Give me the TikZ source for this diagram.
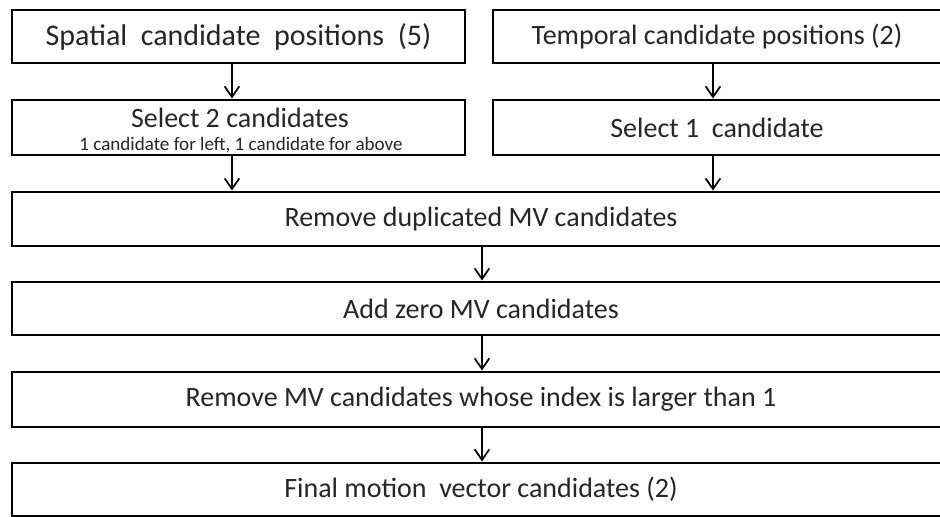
\documentclass[tikz,border=0pt]{standalone}
\usepackage{fontspec}
\setmainfont{Carlito}
\usetikzlibrary{arrows.meta}

\tikzset{
  stepbox/.style={draw=black, line width=2.2pt, rectangle, inner sep=0pt,
    fill=white, text=black!85, font=\fontsize{21}{24}\selectfont, align=center},
  flow/.style={draw=black, line width=1.3pt,
    -{Straight Barb[length=8pt,width=11pt,line width=1.3pt]}},
}

\begin{document}
\begin{tikzpicture}[x=0.75pt,y=-0.75pt]
  \useasboundingbox (0,0) rectangle (940,517);

  % upper row: spatial and temporal branches
  \node[stepbox, minimum width=339.75pt, minimum height=39.75pt,
        font=\fontsize{22.5}{26}\selectfont] (sp) at (238.5,36.5)
    {Spatial~~candidate~~positions~~(5)};
  \node[stepbox, minimum width=336pt, minimum height=39.75pt] (tp) at (717,36.5)
    {Temporal candidate positions (2)};

  \node[stepbox, minimum width=339.75pt, minimum height=41.25pt] (s2) at (238.5,127.5) {};
  \node[font=\fontsize{21}{24}\selectfont, text=black!85] (s2a) at (240,118) {Select 2~candidates};
  \node[font=\fontsize{14.3}{16}\selectfont, text=black!85] (s2b) at (241,145.5) {1 candidate for left, 1 candidate for above};

  \node[stepbox, minimum width=336pt, minimum height=41.25pt] (s1) at (717,127.5)
    {Select 1~~candidate};

  % full-width steps
  \node[stepbox, minimum width=703.5pt, minimum height=40.5pt] (rd) at (481,219)
    {Remove duplicated MV~candidates};
  \node[stepbox, minimum width=703.5pt, minimum height=39.75pt] (az) at (481,308.5)
    {Add zero MV candidates};
  \node[stepbox, minimum width=703.5pt, minimum height=41.25pt] (rm) at (481,399.5)
    {Remove MV candidates whose index is larger than 1};
  \node[stepbox, minimum width=703.5pt, minimum height=39.75pt] (fn) at (481,489.5)
    {Final motion~~vector candidates (2)};

  % connectors
  \coordinate (spout) at ([xshift=-4.9pt]s2.south);
  \coordinate (tpout) at ([xshift=-3pt]s1.south);
  \draw[flow] ([xshift=-4.9pt]sp.south) -- ([xshift=-4.9pt]s2.north);
  \draw[flow] ([xshift=-3pt]tp.south) -- ([xshift=-3pt]s1.north);
  \draw[flow] (spout) -- (spout |- rd.north);
  \draw[flow] (tpout) -- (tpout |- rd.north);
  \draw[flow] ([xshift=0.75pt]rd.south) -- ([xshift=0.75pt]az.north);
  \draw[flow] ([xshift=0.75pt]az.south) -- ([xshift=0.75pt]rm.north);
  \draw[flow] ([xshift=0.75pt]rm.south) -- ([xshift=0.75pt]fn.north);
\end{tikzpicture}
\end{document}
